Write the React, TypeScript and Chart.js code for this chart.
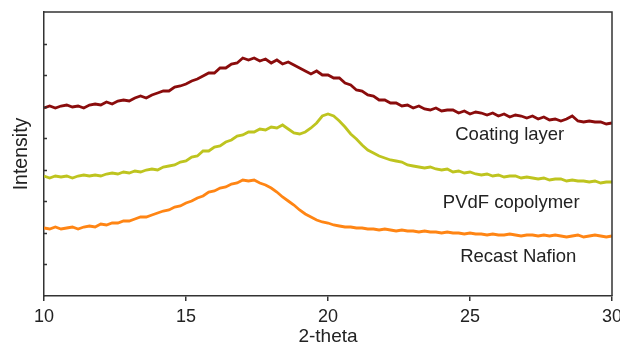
import { useEffect, useRef } from "react";
import { Chart, registerables } from "chart.js";

Chart.register(...registerables);

// Diffractometer scan grid (degrees 2-theta)
const SCAN_START = 10;
const SCAN_STEP = 0.2;

// Intensity (counts) per scan step, offset per sample for stacking
const coatingLayer = [
  1880, 1900, 1880, 1900, 1910, 1890, 1900, 1880, 1910, 1920,
  1910, 1940, 1920, 1950, 1960, 1950, 1980, 2000, 1980, 2010,
  2030, 2050, 2050, 2090, 2100, 2120, 2150, 2170, 2200, 2230,
  2230, 2280, 2280, 2320, 2330, 2380, 2360, 2380, 2350, 2370,
  2330, 2360, 2320, 2340, 2310, 2280, 2250, 2220, 2250, 2210,
  2210, 2180, 2180, 2130, 2110, 2060, 2050, 2010, 2000, 1960,
  1960, 1930, 1930, 1900, 1910, 1880, 1900, 1870, 1860, 1880,
  1850, 1860, 1860, 1830, 1850, 1820, 1840, 1830, 1810, 1830,
  1800, 1820, 1790, 1810, 1800, 1780, 1800, 1770, 1790, 1760,
  1770, 1750, 1770, 1800, 1750, 1740, 1750, 1740, 1740, 1720,
  1730,
];

const pvdfCopolymer = [
  1200, 1180, 1200, 1190, 1200, 1180, 1200, 1210, 1200, 1210,
  1200, 1220, 1230, 1220, 1240, 1230, 1250, 1240, 1260, 1270,
  1260, 1290, 1300, 1310, 1340, 1350, 1390, 1400, 1450, 1450,
  1490, 1500, 1540, 1560, 1600, 1610, 1640, 1640, 1670, 1660,
  1690, 1680, 1710, 1670, 1630, 1620, 1640, 1680, 1730, 1800,
  1820, 1800, 1750, 1690, 1620, 1570, 1510, 1460, 1430, 1400,
  1380, 1360, 1350, 1340, 1310, 1300, 1290, 1280, 1290, 1270,
  1260, 1270, 1240, 1250, 1230, 1240, 1220, 1210, 1220, 1200,
  1210, 1190, 1200, 1200, 1180, 1190, 1180, 1170, 1180, 1160,
  1170, 1170, 1150, 1160, 1150, 1150, 1140, 1150, 1130, 1140,
  1140,
];

const recastNafion = [
  680, 670, 690, 670, 680, 690, 670, 690, 700, 690,
  720, 710, 730, 730, 750, 750, 770, 790, 790, 810,
  830, 850, 860, 890, 900, 930, 950, 980, 1000, 1040,
  1050, 1080, 1090, 1120, 1130, 1160, 1150, 1160, 1130, 1110,
  1080, 1040, 990, 950, 910, 860, 820, 790, 760, 740,
  730, 710, 700, 690, 690, 680, 680, 670, 670, 660,
  670, 660, 650, 660, 650, 650, 640, 650, 640, 640,
  630, 640, 630, 630, 620, 630, 620, 620, 610, 620,
  610, 610, 620, 610, 600, 610, 610, 600, 610, 600,
  610, 600, 590, 600, 610, 590, 600, 610, 600, 590,
  600,
];

const seriesNames = ["Coating layer", "PVdF copolymer", "Recast Nafion"];
const seriesData = [coatingLayer, pvdfCopolymer, recastNafion];
const seriesColors = ["#8a0c0c", "#bec41f", "#ff8514"];

// Sample name anchors in data coordinates
const labelTheta = [26.4, 26.45, 26.7];
const labelIntensity = [1610, 930, 390];

const X_MIN = 10;
const X_MAX = 30;
const X_STEP = 5;
const Y_MAX = 2840;
const Y_DIVISIONS = 9;

const FONT = "'Liberation Sans', Arial, Helvetica, sans-serif";
const INK = "#222";
const AXIS = "#333";

const toPoints = (values: number[]) =>
  values.map((v, i) => ({ x: SCAN_START + i * SCAN_STEP, y: v }));

const framePlugin = {
  id: "frameAndLabels",
  afterDraw(chart: any) {
    const { ctx, chartArea, scales } = chart;
    const { left, right, top, bottom } = chartArea;
    ctx.save();
    // inward minor ticks on the intensity axis
    ctx.strokeStyle = AXIS;
    ctx.lineWidth = 1.5;
    ctx.beginPath();
    for (let i = 1; i < Y_DIVISIONS; i++) {
      const y = Math.round(scales.y.getPixelForValue((Y_MAX / Y_DIVISIONS) * i)) + 0.5;
      ctx.moveTo(left, y);
      ctx.lineTo(left + 3, y);
    }
    ctx.stroke();
    // top and right edges of the frame
    ctx.beginPath();
    ctx.moveTo(left, top);
    ctx.lineTo(right, top);
    ctx.lineTo(right, bottom);
    ctx.stroke();
    // sample names
    ctx.fillStyle = INK;
    ctx.font = `18.5px ${FONT}`;
    ctx.textAlign = "center";
    ctx.textBaseline = "middle";
    seriesNames.forEach((name, i) => {
      ctx.fillText(
        name,
        scales.x.getPixelForValue(labelTheta[i]),
        scales.y.getPixelForValue(labelIntensity[i])
      );
    });
    ctx.restore();
  },
};

export default function App() {
  const canvasRef = useRef<HTMLCanvasElement | null>(null);

  useEffect(() => {
    if (!canvasRef.current) return;
    const chart = new Chart(canvasRef.current, {
      type: "line",
      data: {
        datasets: seriesNames.map((name, i) => ({
          label: name,
          data: toPoints(seriesData[i]),
          borderColor: seriesColors[i],
          borderWidth: 2.8,
          pointRadius: 0,
          tension: 0,
          fill: false,
        })),
      },
      options: {
        responsive: false,
        animation: false,
        devicePixelRatio: 1,
        layout: { padding: { top: 12, right: 8, left: 0, bottom: 0 } },
        plugins: {
          legend: { display: false },
          tooltip: { enabled: false },
        },
        scales: {
          x: {
            type: "linear",
            min: X_MIN,
            max: X_MAX,
            ticks: {
              stepSize: X_STEP,
              color: INK,
              font: { family: FONT, size: 18 },
              padding: 5,
              maxRotation: 0,
            },
            grid: {
              drawOnChartArea: false,
              drawTicks: true,
              tickLength: 5,
              color: AXIS,
              lineWidth: 1.5,
            },
            border: { display: true, color: AXIS, width: 1.5 },
            title: {
              display: true,
              text: "2-theta",
              color: INK,
              font: { family: FONT, size: 19 },
              padding: { top: 0, bottom: 0 },
            },
            afterFit: (scale: any) => {
              scale.height = 52;
              scale.paddingLeft = 0;
              scale.paddingRight = 0;
            },
          },
          y: {
            type: "linear",
            min: 0,
            max: Y_MAX,
            ticks: { display: false, stepSize: Y_MAX / Y_DIVISIONS },
            grid: { display: false, drawTicks: false },
            border: { display: true, color: AXIS, width: 1.5 },
            title: {
              display: true,
              text: "Intensity",
              color: INK,
              font: { family: FONT, size: 19.5 },
              padding: { top: 10, bottom: 0 },
            },
            afterFit: (scale: any) => {
              scale.width = 44;
            },
          },
        },
      },
      plugins: [framePlugin],
    } as any);
    return () => chart.destroy();
  }, []);

  return (
    <div style={{ position: "absolute", left: 0, top: 0, width: 620, height: 348, background: "#fff" }}>
      <canvas ref={canvasRef} width={620} height={348} />
    </div>
  );
}
